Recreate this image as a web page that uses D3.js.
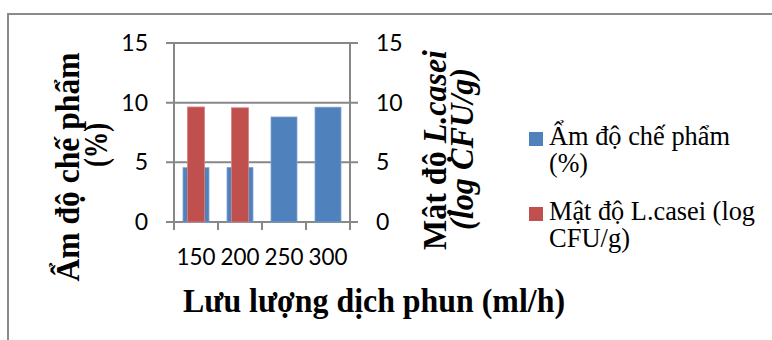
<!DOCTYPE html>
<html>
<head>
<meta charset="utf-8">
<script src="https://cdn.jsdelivr.net/npm/d3@7"></script>
<style>
  body { margin: 0; background: #fff; }
  .tick-label { font-family: Lato, "Open Sans", sans-serif; font-size: 23px; fill: #000; }
  .axis-title { font-family: "Liberation Serif", "Times New Roman", serif; font-size: 33px; font-weight: bold; fill: #000; }
  .legend-text { font-family: "Liberation Serif", "Times New Roman", serif; font-size: 28px; fill: #000; }
</style>
</head>
<body>
<svg id="chart" width="772" height="340"></svg>
<script>
// data
var categories = ["150", "200", "250", "300"];
var moisture = [4.55, 4.57, 8.8, 9.62];      // Ẩm độ chế phẩm (%)  - left axis
var density = [9.64, 9.57, null, null];      // Mật độ L.casei (log CFU/g) - right axis
var yTicks = [0, 5, 10, 15];

var blue = "#4f81bd", red = "#c0504d", gridColor = "#878787";

var svg = d3.select("#chart");

// outer frame of the chart object (runs off the right and bottom edge)
svg.append("path")
  .attr("d", "M8,345 L8,14 L780,14")
  .attr("fill", "none")
  .attr("stroke", "#8a8a8a")
  .attr("stroke-width", 2);

var plotLeft = 174, plotRight = 350, plotTop = 43, plotBottom = 222;

var x = d3.scaleBand().domain(categories).range([plotLeft, plotRight]);
var xBlue = d3.scaleBand().domain(categories).range([plotLeft, plotRight]).paddingInner(0.41).paddingOuter(0.205);
var xRed = d3.scaleBand().domain(categories).range([plotLeft, plotRight]).paddingInner(0.61).paddingOuter(0.305);
var yLeft = d3.scaleLinear().domain([0, 15]).range([plotBottom, plotTop]);
var yRight = d3.scaleLinear().domain([0, 15]).range([plotBottom, plotTop]);

// gridlines (with the tick stubs on both sides)
svg.append("g").selectAll("line")
  .data(yTicks)
  .enter()
  .append("line")
    .attr("x1", plotLeft - 8)
    .attr("x2", plotRight + 8)
    .attr("y1", function(d){ return yLeft(d); })
    .attr("y2", function(d){ return yLeft(d); })
    .attr("stroke", gridColor)
    .attr("stroke-width", 2);

// vertical axis lines and category tick marks
var boundaries = categories.map(function(c){ return x(c); }).concat([plotRight]);
svg.append("g").selectAll("line")
  .data(boundaries)
  .enter()
  .append("line")
    .attr("x1", function(d){ return d; })
    .attr("x2", function(d){ return d; })
    .attr("y1", function(d, i){ return (i === 0 || i === boundaries.length - 1) ? plotTop - 1 : plotBottom; })
    .attr("y2", plotBottom + 8)
    .attr("stroke", gridColor)
    .attr("stroke-width", 2);

// blue bars (primary axis)
svg.append("g").selectAll("rect")
  .data(moisture)
  .enter()
  .append("rect")
    .attr("x", function(d, i){ return xBlue(categories[i]); })
    .attr("width", xBlue.bandwidth())
    .attr("y", function(d){ return yLeft(d); })
    .attr("height", function(d){ return yLeft(0) - yLeft(d); })
    .attr("fill", blue)
    .attr("stroke", "#7aa0d0")
    .attr("stroke-width", 0.8);

// red bars (secondary axis)
svg.append("g").selectAll("rect")
  .data(density.filter(function(d){ return d !== null; }))
  .enter()
  .append("rect")
    .attr("x", function(d, i){ return xRed(categories[i]); })
    .attr("width", xRed.bandwidth())
    .attr("y", function(d){ return yRight(d); })
    .attr("height", function(d){ return yRight(0) - yRight(d); })
    .attr("fill", red)
    .attr("stroke", "#d88583")
    .attr("stroke-width", 0.8);

// left tick labels
svg.append("g").selectAll("text")
  .data(yTicks)
  .enter()
  .append("text")
    .attr("class", "tick-label")
    .attr("x", 148)
    .attr("y", function(d){ return yLeft(d) + 8; })
    .attr("text-anchor", "end")
    .text(function(d){ return d; });

// right tick labels
svg.append("g").selectAll("text")
  .data(yTicks)
  .enter()
  .append("text")
    .attr("class", "tick-label")
    .attr("x", 376)
    .attr("y", function(d){ return yRight(d) + 8; })
    .text(function(d){ return d; });

// category labels
svg.append("g").selectAll("text")
  .data(categories)
  .enter()
  .append("text")
    .attr("class", "tick-label")
    .attr("x", function(d){ return x(d) + x.bandwidth() / 2; })
    .attr("y", 265)
    .attr("text-anchor", "middle")
    .attr("textLength", 39)
    .attr("lengthAdjust", "spacingAndGlyphs")
    .text(function(d){ return d; });

// x axis title
svg.append("text")
  .attr("class", "axis-title")
  .attr("x", 374)
  .attr("y", 312)
  .attr("text-anchor", "middle")
  .attr("textLength", 382)
  .attr("lengthAdjust", "spacingAndGlyphs")
  .text("Lưu lượng dịch phun (ml/h)");

// left axis title, two lines
svg.append("text")
  .attr("class", "axis-title")
  .attr("transform", "translate(79,167) rotate(-90)")
  .attr("text-anchor", "middle")
  .attr("textLength", 229)
  .attr("lengthAdjust", "spacingAndGlyphs")
  .text("Ẩm độ chế phẩm");
svg.append("text")
  .attr("class", "axis-title")
  .attr("transform", "translate(107,145) rotate(-90)")
  .attr("text-anchor", "middle")
  .attr("textLength", 44)
  .attr("lengthAdjust", "spacingAndGlyphs")
  .text("(%)");

// right axis title, two lines
var rt1 = svg.append("text")
  .attr("class", "axis-title")
  .attr("transform", "translate(446,150) rotate(-90)")
  .attr("text-anchor", "middle")
  .attr("textLength", 200)
  .attr("lengthAdjust", "spacingAndGlyphs");
rt1.append("tspan").text("Mật độ ");
rt1.append("tspan").attr("font-style", "italic").text("L.casei");
svg.append("text")
  .attr("class", "axis-title")
  .attr("font-style", "italic")
  .attr("transform", "translate(473,149) rotate(-90)")
  .attr("text-anchor", "middle")
  .attr("textLength", 162)
  .attr("lengthAdjust", "spacingAndGlyphs")
  .text("(log CFU/g)");

// legend
var legendNames = [["Ẩm độ chế phẩm", "(%)"], ["Mật độ L.casei (log", "CFU/g)"]];
var legendColors = [blue, red];
var legendTop = [132, 207];
var legendWidths = [[181, 39], [206, 81]];

var legend = svg.append("g")
  .selectAll("g")
  .data(legendNames)
  .enter()
  .append("g")
    .attr("class", "legend-item");

legend.append("rect")
  .attr("x", 529)
  .attr("y", function(d, i){ return legendTop[i]; })
  .attr("width", 14)
  .attr("height", 14)
  .attr("fill", function(d, i){ return legendColors[i]; });

legend.each(function(d, i){
  var g = d3.select(this);
  d.forEach(function(line, j){
    g.append("text")
      .attr("class", "legend-text")
      .attr("x", 549)
      .attr("y", legendTop[i] + 13 + j * 27)
      .attr("textLength", legendWidths[i][j])
      .attr("lengthAdjust", "spacingAndGlyphs")
      .text(line);
  });
});
</script>
</body>
</html>
